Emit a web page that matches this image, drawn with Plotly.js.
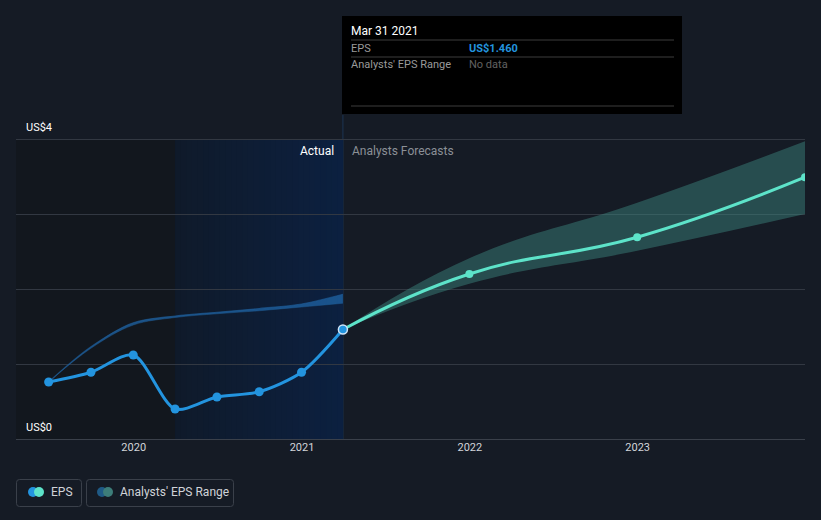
<!DOCTYPE html>
<html>
<head>
<meta charset="utf-8">
<script src="https://cdn.plot.ly/plotly-3.0.1.min.js"></script>
<style>html,body{margin:0;padding:0;background:#151b25;}#chart{width:821px;height:520px;}</style>
</head>
<body>
<div id="chart"></div>
<script>
// ---- data ----
const actualDates = ['2019-06-30','2019-09-30','2019-12-31','2020-03-31','2020-06-30','2020-09-30','2020-12-31','2021-03-31'];
const actualEps = [0.76, 0.89, 1.12, 0.40, 0.56, 0.63, 0.89, 1.46];

const pastRangeLow  = [0.76, 1.21, 1.52, 1.62, 1.67, 1.71, 1.76, 1.81];
const pastRangeHigh = [0.76, 1.23, 1.55, 1.64, 1.69, 1.74, 1.80, 1.93];

const forecastDates = ['2021-03-31','2021-12-31','2022-12-31','2023-12-31'];
const forecastEps  = [1.46, 2.20, 2.69, 3.49];
const forecastLow  = [1.46, 2.07, 2.51, 3.00];
const forecastHigh = [1.46, 2.41, 3.15, 3.97];

const tickDates = ['2020-01-01','2021-01-01','2022-01-01','2023-01-01'];
const tickLabels = ['2020','2021','2022','2023'];

const xRange = ['2019-04-20','2023-12-31'];
const pastStart = '2019-04-20';
const ltmStart = '2020-03-31';
const nowDate = '2021-03-31';

// ---- layout helpers (pixel -> paper) ----
const W = 821, H = 520, L = 16, R = 805, T = 130, B = 439;
const px = x => (x - L) / (R - L);
const py = y => (B - y) / (B - T);

const BLUE = '#2394df', TEAL = '#5de3c9';
const n = actualEps.length;

const traces = [
  // past analysts' range (blue band)
  {x: actualDates, y: pastRangeLow, type: 'scatter', mode: 'lines',
   line: {color: 'rgba(30,90,145,0.5)', width: 1, shape: 'spline', smoothing: 1},
   hoverinfo: 'skip', showlegend: false},
  {x: actualDates, y: pastRangeHigh, type: 'scatter', mode: 'lines', fill: 'tonexty',
   fillcolor: 'rgba(31,100,165,0.75)',
   line: {color: 'rgba(30,92,150,0.65)', width: 1.2, shape: 'spline', smoothing: 1},
   hoverinfo: 'skip', showlegend: false},
  // forecast range (teal band)
  {x: forecastDates, y: forecastLow, type: 'scatter', mode: 'lines',
   line: {color: 'rgba(0,0,0,0)', width: 0, shape: 'spline', smoothing: 1.3},
   hoverinfo: 'skip', showlegend: false},
  {x: forecastDates, y: forecastHigh, type: 'scatter', mode: 'lines', fill: 'tonexty',
   fillcolor: 'rgba(62,140,130,0.45)',
   line: {color: 'rgba(0,0,0,0)', width: 0, shape: 'spline', smoothing: 1.3},
   hoverinfo: 'skip', showlegend: false},
  // forecast EPS
  {x: forecastDates, y: forecastEps, type: 'scatter', mode: 'lines+markers',
   line: {color: TEAL, width: 3, shape: 'spline', smoothing: 1.3},
   marker: {color: TEAL, size: 8},
   hoverinfo: 'skip', showlegend: false},
  // actual EPS
  {x: actualDates, y: actualEps, type: 'scatter', mode: 'lines+markers',
   line: {color: BLUE, width: 3, shape: 'spline', smoothing: 0.8},
   marker: {color: BLUE, size: 9,
     line: {color: actualEps.map((v, i) => i === n - 1 ? '#cfe4f7' : BLUE),
            width: actualEps.map((v, i) => i === n - 1 ? 1.5 : 0)}},
   hoverinfo: 'skip', showlegend: false}
];

function roundRect(x0, y0, x1, y1, r) {
  const a = px(x0), b = px(x1), c = py(y0), d = py(y1);
  const rx = r / (R - L), ry = r / (B - T);
  return `M ${a + rx} ${c} L ${b - rx} ${c} Q ${b} ${c} ${b} ${c - ry} L ${b} ${d + ry} Q ${b} ${d} ${b - rx} ${d} L ${a + rx} ${d} Q ${a} ${d} ${a} ${d + ry} L ${a} ${c - ry} Q ${a} ${c} ${a + rx} ${c} Z`;
}
function circle(cx, cy, r, color) {
  return {type: 'circle', xref: 'paper', yref: 'paper',
    x0: px(cx - r), x1: px(cx + r), y0: py(cy + r), y1: py(cy - r),
    fillcolor: color, line: {width: 0}, layer: 'above'};
}

// gradient for the last-twelve-months highlight: overlapping strips, each running to the end
const gradStrips = [];
{
  const t0 = new Date(ltmStart).getTime(), t1 = new Date(nowDate).getTime();
  const c0 = [15, 26, 42], c1 = [12, 32, 64], N = 30;
  for (let i = 0; i < N; i++) {
    const f = (i + 0.5) / N;
    const c = c0.map((v, k) => Math.round(v + (c1[k] - v) * f));
    gradStrips.push({type: 'rect', xref: 'x', yref: 'y',
      x0: new Date(t0 + (t1 - t0) * i / N).toISOString(), x1: nowDate,
      y0: 0, y1: 4, fillcolor: `rgb(${c[0]},${c[1]},${c[2]})`, line: {width: 0}, layer: 'below'});
  }
}

const shapes = [
  // past (dark) region
  {type: 'rect', xref: 'x', yref: 'y', x0: pastStart, x1: ltmStart, y0: 0, y1: 4,
   fillcolor: '#12171e', line: {width: 0}, layer: 'below'},
  ...gradStrips,
  // current-date line
  {type: 'line', xref: 'x', yref: 'paper', x0: nowDate, x1: nowDate, y0: 0, y1: py(115),
   line: {color: '#1c3454', width: 1}, layer: 'below'},
  // tooltip box
  {type: 'rect', xref: 'paper', yref: 'paper', x0: px(342), x1: px(682), y0: py(114), y1: py(16),
   fillcolor: '#000000', line: {width: 0}, layer: 'above'},
  {type: 'line', xref: 'paper', yref: 'paper', x0: px(351), x1: px(674), y0: py(40), y1: py(40),
   line: {color: '#3d3d3d', width: 1}, layer: 'above'},
  {type: 'line', xref: 'paper', yref: 'paper', x0: px(351), x1: px(674), y0: py(57), y1: py(57),
   line: {color: '#3d3d3d', width: 1}, layer: 'above'},
  {type: 'line', xref: 'paper', yref: 'paper', x0: px(351), x1: px(674), y0: py(106), y1: py(106),
   line: {color: '#3d3d3d', width: 1}, layer: 'above'},
  // legend boxes
  {type: 'path', xref: 'paper', yref: 'paper', path: roundRect(16.5, 479.5, 81.5, 506.5, 3),
   line: {color: '#3a404a', width: 1}, fillcolor: 'rgba(0,0,0,0)', layer: 'above'},
  {type: 'path', xref: 'paper', yref: 'paper', path: roundRect(86.5, 479.5, 233.5, 506.5, 3),
   line: {color: '#3a404a', width: 1}, fillcolor: 'rgba(0,0,0,0)', layer: 'above'},
  circle(33, 492, 5, BLUE), circle(39, 492, 5, TEAL),
  circle(102, 492, 5, '#1f5a86'), circle(108, 492, 5, '#3d7d79')
];

const font = 'Roboto, "Open Sans", sans-serif';
function ann(text, x, y, color, size, anchor, extra) {
  return Object.assign({text, xref: 'paper', yref: 'paper', x: px(x), y: py(y),
    xanchor: anchor || 'left', yanchor: 'middle', showarrow: false,
    font: {family: font, size: size, color: color}}, extra || {});
}

const annotations = [
  ann('US$4', 24, 127, '#ffffff', 11),
  ann('US$0', 24, 427, '#ffffff', 11),
  ann('Actual', 336, 151, '#ffffff', 12, 'right'),
  ann('Analysts Forecasts', 350, 151, '#8b9097', 12),
  ann('Mar 31 2021', 349, 31, '#ffffff', 12),
  ann('EPS', 349, 48, '#9a9a9a', 11),
  ann('<b>US$1.460</b>', 467, 48, '#2394df', 11),
  ann("Analysts' EPS Range", 349, 65, '#9a9a9a', 11),
  ann('No data', 467, 65, '#626262', 11),
  ann('EPS', 49, 492, '#d0d3d8', 12),
  ann("Analysts' EPS Range", 118, 492, '#d0d3d8', 12)
];

const layout = {
  width: W, height: H,
  margin: {l: L, r: W - R, t: T, b: H - B, pad: 0},
  paper_bgcolor: '#151b25', plot_bgcolor: '#151b25',
  showlegend: false,
  font: {family: font, color: '#d0d3d8'},
  xaxis: {type: 'date', range: xRange, tickvals: tickDates, ticktext: tickLabels,
    showgrid: false, zeroline: false, showline: false, ticks: '',
    tickfont: {family: font, size: 11, color: '#d2d5da'}, fixedrange: true},
  yaxis: {range: [0, 4.12], tickvals: [0, 1, 2, 3, 4], showticklabels: false,
    showgrid: true, gridcolor: '#323842', gridwidth: 1, zeroline: true,
    zerolinecolor: '#3a404a', zerolinewidth: 1, showline: false, fixedrange: true},
  shapes, annotations
};

Plotly.newPlot('chart', traces, layout, {displayModeBar: false, staticPlot: true});
</script>
</body>
</html>
